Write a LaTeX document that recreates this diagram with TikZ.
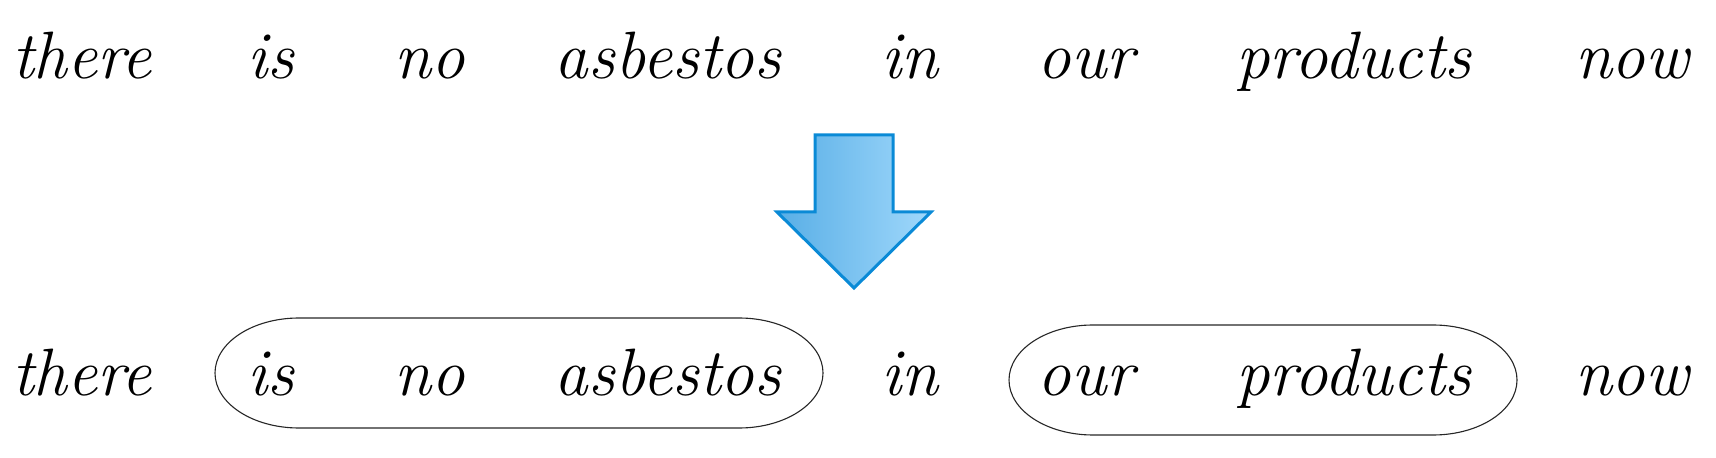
\documentclass[tikz,border=0pt]{standalone}
\begin{document}
\begin{tikzpicture}[x=0.5pt,y=-0.5pt,
  word/.style={anchor=base,inner sep=0pt,font=\fontsize{33.5}{40}\selectfont\itshape},
  group/.style={draw=black!85,line width=0.55pt},
  bigarrow/.style={draw={rgb,255:red,10;green,138;blue,214},line width=1.5pt,line join=miter,
    left color={rgb,255:red,88;green,174;blue,230},right color={rgb,255:red,160;green,216;blue,251}}]
\useasboundingbox (0,0) rectangle (1716,458);
% top row
\node[word] (t1) at (82,79) {there};
\node[word] (t2) at (271,79) {is};
\node[word] (t3) at (430,79) {no};
\node[word] (t4) at (668,79) {asbestos};
\node[word] (t5) at (910,79) {in};
\node[word] (t6) at (1086,79) {our};
\node[word] (t7) at (1354,79) {products};
\node[word] (t8) at (1632,79) {now};
% bottom row
\node[word] (b1) at (82,396) {there};
\node[word] (b2) at (271,396) {is};
\node[word] (b3) at (430,396) {no};
\node[word] (b4) at (668,396) {asbestos};
\node[word] (b5) at (910,396) {in};
\node[word] (b6) at (1086,396) {our};
\node[word] (b7) at (1354,396) {products};
\node[word] (b8) at (1632,396) {now};
% group outlines
\coordinate (g1a) at (299,318);
\coordinate (g1b) at (739,428);
\coordinate (g2a) at (1093,325);
\coordinate (g2b) at (1433,435);
\draw[group] (g1a) -- (g1a -| g1b) arc[start angle=90,end angle=-90,x radius=84,y radius=-55]
  -- (g1b -| g1a) arc[start angle=270,end angle=90,x radius=84,y radius=-55] -- cycle;
\draw[group] (g2a) -- (g2a -| g2b) arc[start angle=90,end angle=-90,x radius=84,y radius=-55]
  -- (g2b -| g2a) arc[start angle=270,end angle=90,x radius=84,y radius=-55] -- cycle;
% arrow
\coordinate (tip) at (854,288);
\path[bigarrow] (815,135) -- (893,135) -- (893,212) -- (931,212) -- (tip) -- (777,212) -- (815,212) -- cycle;
\end{tikzpicture}
\end{document}
